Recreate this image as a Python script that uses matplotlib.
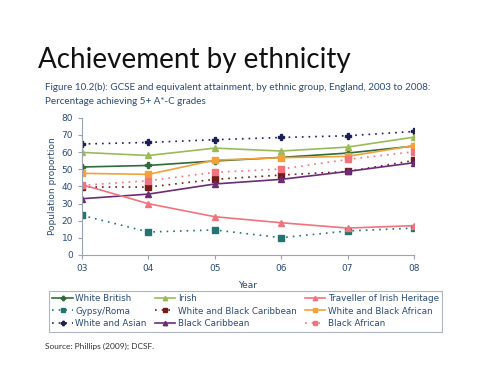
import matplotlib.pyplot as plt

years = ['03', '04', '05', '06', '07', '08']

white_british = [51.3, 52.2, 54.8, 56.9, 59.4, 63.5]
irish = [59.8, 58.0, 62.3, 60.6, 62.9, 68.7]
traveller = [41.0, 29.9, 22.3, 18.8, 15.7, 17.1]
gypsy_roma = [23.1, 13.4, 14.6, 10.1, 14.0, 15.7]
white_black_caribbean = [39.6, 39.6, 44.1, 46.6, 48.7, 55.1]
white_black_african = [47.6, 47.0, 55.3, 56.7, 57.5, 63.8]
white_asian = [64.7, 65.6, 67.2, 68.5, 69.5, 72.0]
black_caribbean = [32.8, 35.5, 41.4, 44.1, 48.7, 53.8]
black_african = [40.6, 43.3, 48.2, 50.1, 55.7, 60.2]

dot = (0, (1, 3))
# legend order is row-wise, as in the reference
series = [
    ('White British', white_british, '#2f6b3c', '-', 'P'),
    ('Gypsy/Roma', gypsy_roma, '#247472', dot, 's'),
    ('White and Asian', white_asian, '#1c1f5a', dot, 'P'),
    ('Irish', irish, '#9bbb59', '-', '^'),
    ('White and Black Caribbean', white_black_caribbean, '#741c1c', dot, 's'),
    ('Black Caribbean', black_caribbean, '#6a2d76', '-', '^'),
    ('Traveller of Irish Heritage', traveller, '#f2737d', '-', '^'),
    ('White and Black African', white_black_african, '#f3a23a', '-', 's'),
    ('Black African', black_african, '#f2737d', dot, 's'),
]

text_col = '#2b4b78'
fig = plt.figure(figsize=(5, 3.75), dpi=100)
ax = fig.add_axes([0.164, 0.32, 0.664, 0.366])

x = list(range(len(years)))
for name, vals, col, ls, mk in series:
    ax.plot(x, vals, color=col, linestyle=ls, linewidth=1.2, marker=mk,
            markersize=4, label=name)

ax.set_xlim(0, 5)
ax.set_ylim(0, 80)
ax.set_xticks(x)
ax.set_xticklabels(years)
ax.set_yticks(range(0, 81, 10))
for s in ['top', 'right']:
    ax.spines[s].set_visible(False)
for s in ['left', 'bottom']:
    ax.spines[s].set_color('#9aa3b0')
ax.tick_params(colors='#9aa3b0', labelcolor=text_col, labelsize=6.5, length=3)
ax.set_xlabel('Year', fontsize=6.5, color=text_col, labelpad=6)
ax.set_ylabel('Population proportion', fontsize=6.5, color=text_col, labelpad=3)

leg = fig.legend(loc='upper left', bbox_to_anchor=(0.09, 0.12, 0.802, 0.117),
                 mode='expand', ncol=3, fontsize=6.3, frameon=True,
                 fancybox=False, borderpad=0.35, labelspacing=0.45,
                 handlelength=2.3, handletextpad=0.3, columnspacing=1,
                 markerscale=0.8)
leg.get_frame().set_edgecolor('#9aa3b0')
leg.get_frame().set_linewidth(0.8)
for t in leg.get_texts():
    t.set_color(text_col)

fig.text(0.076, 0.84, 'Achievement by ethnicity', fontsize=20, family='Lato',
         color='#111111', va='center')
fig.text(0.09, 0.768, 'Figure 10.2(b): GCSE and equivalent attainment, by ethnic group, England, 2003 to 2008:',
         fontsize=7.1, family='Lato', color=text_col, va='center')
fig.text(0.09, 0.73, 'Percentage achieving 5+ A*-C grades', fontsize=7.1,
         family='Lato', color=text_col, va='center')
fig.text(0.09, 0.077, 'Source: Phillips (2009); DCSF.', fontsize=6,
         family='Lato', color='#333333', va='center')

fig.savefig('out.png', dpi=100)
